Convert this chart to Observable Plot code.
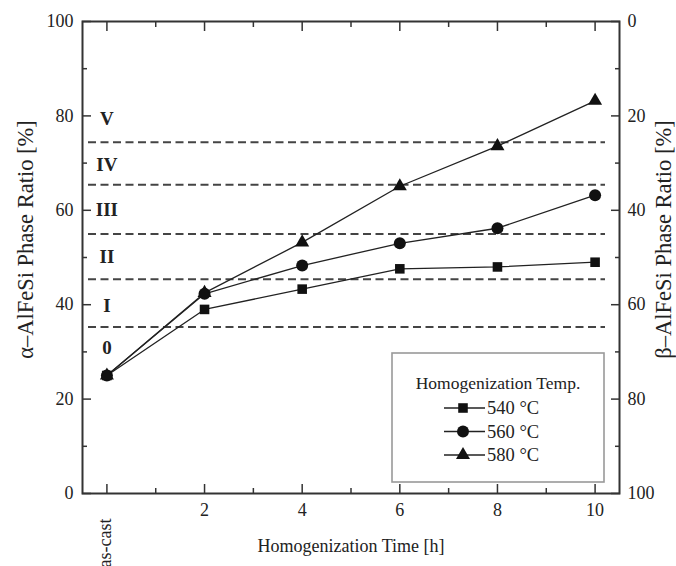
<!DOCTYPE html>
<html><head><meta charset="utf-8">
<script src="https://cdn.jsdelivr.net/npm/d3@7"></script>
<script src="https://cdn.jsdelivr.net/npm/@observablehq/plot@0.6"></script>
<style>
body{margin:0;background:#fff;}
#wrap{position:relative;width:676px;height:566px;overflow:hidden;}
</style></head><body><div id="wrap"></div>
<script>
// ---- data ----
const times = [0, 2, 4, 6, 8, 10];
const seriesNames = ["540 °C", "560 °C", "580 °C"];
const seriesSymbols = ["square", "circle", "triangle"];
const ratio540 = [25, 39.0, 43.3, 47.6, 48.0, 49.0];
const ratio560 = [25, 42.3, 48.3, 53.0, 56.2, 63.2];
const ratio580 = [25, 42.5, 53.2, 65.1, 73.6, 83.2];
const boundaries = [35.3, 45.4, 55.0, 65.4, 74.4];
const stageLabels = ["0", "I", "II", "III", "IV", "V"];
const stagePos = [30.9, 39.8, 50.2, 60.1, 69.6, 79.4];
const majorY = [0, 20, 40, 60, 80, 100];
const minorY = [10, 30, 50, 70, 90];
const majorX = [0, 2, 4, 6, 8, 10];
const minorX = [1, 3, 5, 7, 9];
const labelX = [2, 4, 6, 8, 10];
const xTitle = "Homogenization Time [h]";
const yTitle = "α–AlFeSi Phase Ratio [%]";
const y2Title = "β–AlFeSi Phase Ratio [%]";
const legendTitle = "Homogenization Temp.";

const allSeries = [ratio540, ratio560, ratio580];
const rows = [];
allSeries.forEach((vals, s) => vals.forEach((v, i) => rows.push({t: times[i], v, s: seriesNames[s]})));
const symR = {"540 °C": 5.4, "560 °C": 6, "580 °C": 5.2};

const ink = "#222";
const font = "Liberation Serif";

const marks = [
  Plot.ruleY(boundaries, {stroke: "#444", strokeWidth: 2, strokeDasharray: "8,4.5", insetLeft: 6, insetRight: 14}),
  Plot.text(stageLabels, {x: () => 0, y: (d, i) => stagePos[i], text: d => d, fontWeight: "bold", fontSize: 19, fill: ink, fontFamily: font}),
];
seriesNames.forEach((name, s) => {
  const data = rows.filter(r => r.s === name);
  marks.push(Plot.line(data, {x: "t", y: "v", stroke: ink, strokeWidth: 1.3}));
});
seriesNames.forEach((name, s) => {
  const data = rows.filter(r => r.s === name);
  marks.push(Plot.dot(data, {x: "t", y: "v", symbol: () => seriesSymbols[s], r: symR[name], fill: "#111", stroke: "none"}));
});
const noText = () => "";
const tk = {label: null, tickFormat: noText, stroke: "#333", strokeWidth: 1.5};
marks.push(
  Plot.frame({stroke: "#333", strokeWidth: 2}),
  // inward ticks (drawn outward then shifted inside)
  Plot.axisX(majorX, {...tk, anchor: "bottom", tickSize: 9, dy: -9}),
  Plot.axisX(minorX, {...tk, anchor: "bottom", tickSize: 5, dy: -5}),
  Plot.axisX(majorX, {...tk, anchor: "top", tickSize: 9, dy: 9}),
  Plot.axisX(minorX, {...tk, anchor: "top", tickSize: 5, dy: 5}),
  Plot.axisY(majorY, {...tk, anchor: "left", tickSize: 9, dx: 9}),
  Plot.axisY(minorY, {...tk, anchor: "left", tickSize: 5, dx: 5}),
  Plot.axisY(majorY, {...tk, anchor: "right", tickSize: 9, dx: -9}),
  Plot.axisY(minorY, {...tk, anchor: "right", tickSize: 5, dx: -5}),
  // labels
  Plot.axisX(labelX, {anchor: "bottom", tickSize: 0, tickPadding: 10, label: null, fontSize: 18, fill: ink}),
  Plot.axisY(majorY, {anchor: "left", tickSize: 0, tickPadding: 9, label: null, fontSize: 18, fill: ink}),
  Plot.axisY(majorY, {anchor: "right", tickSize: 0, tickPadding: 8, label: null, fontSize: 18, fill: ink, tickFormat: d => String(100 - d)}),
  Plot.text(["as-cast"], {x: () => 0, frameAnchor: "bottom", text: d => d, rotate: -90, textAnchor: "end", lineAnchor: "middle", dy: 25, dx: -2, fontSize: 18, fill: ink, fontFamily: font}),
  Plot.text([xTitle], {frameAnchor: "bottom", text: d => d, textAnchor: "middle", lineAnchor: "middle", dy: 53, fontSize: 18, fill: ink, fontFamily: font}),
  Plot.text([yTitle], {frameAnchor: "left", text: d => d, rotate: -90, textAnchor: "middle", lineAnchor: "middle", dx: -57, dy: -18, fontSize: 22.5, fill: ink, fontFamily: font}),
  Plot.text([y2Title], {frameAnchor: "right", text: d => d, rotate: -90, textAnchor: "middle", lineAnchor: "middle", dx: 44, dy: -18, fontSize: 22.5, fill: ink, fontFamily: font})
);

const chart = Plot.plot({
  width: 676, height: 566,
  marginLeft: 82, marginRight: 57, marginTop: 21, marginBottom: 73,
  x: {domain: [-0.5, 10.5]},
  y: {domain: [0, 100]},
  style: {fontFamily: font, fontSize: "18px", color: ink, background: "#fff"},
  marks
});
document.getElementById("wrap").appendChild(chart);

// ---- legend ----
const lg = d3.select("#wrap").append("svg")
  .attr("width", 214).attr("height", 131)
  .style("position", "absolute").style("left", "391px").style("top", "352px")
  .style("font-family", font);
lg.append("rect").attr("x", 1).attr("y", 1).attr("width", 212).attr("height", 129)
  .attr("fill", "#fff").attr("stroke", "#999").attr("stroke-width", 1.6);
lg.append("text").attr("x", 107).attr("y", 31).attr("dy", "0.35em").attr("text-anchor", "middle")
  .attr("font-size", 17.5).attr("fill", ink).text(legendTitle);
const symMap = {square: d3.symbolSquare, circle: d3.symbolCircle, triangle: d3.symbolTriangle};
seriesNames.forEach((name, s) => {
  const cy = 56 + s * 23.5;
  lg.append("line").attr("x1", 53).attr("x2", 94).attr("y1", cy).attr("y2", cy).attr("stroke", ink).attr("stroke-width", 1.3);
  lg.append("path").attr("transform", `translate(72,${cy})`)
    .attr("d", d3.symbol(symMap[seriesSymbols[s]], Math.PI * symR[name] * symR[name])())
    .attr("fill", "#111");
  lg.append("text").attr("x", 96).attr("y", cy).attr("dy", "0.35em").attr("font-size", 18.5).attr("fill", ink).text(name);
});
</script>
</body></html>
